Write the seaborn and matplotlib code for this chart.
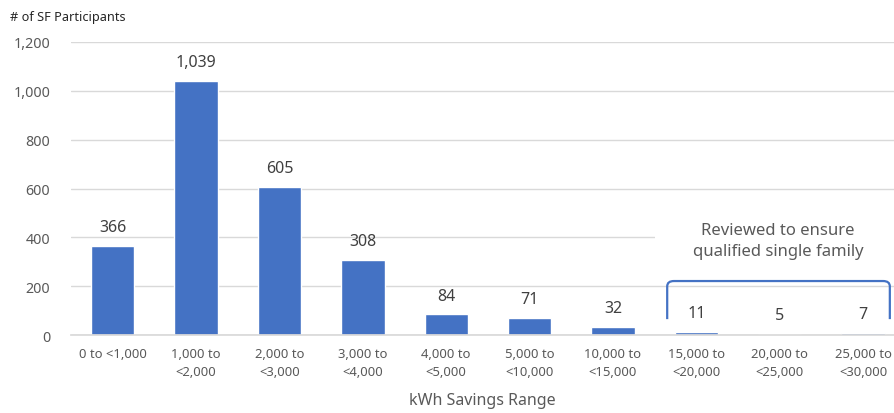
import matplotlib
matplotlib.use("Agg")
import matplotlib.pyplot as plt
import seaborn as sns
import pandas as pd
from matplotlib.path import Path
from matplotlib.patches import PathPatch, Rectangle

ranges = ["0 to <1,000", "1,000 to\n<2,000", "2,000 to\n<3,000", "3,000 to\n<4,000",
          "4,000 to\n<5,000", "5,000 to\n<10,000", "10,000 to\n<15,000", "15,000 to\n<20,000",
          "20,000 to\n<25,000", "25,000 to\n<30,000"]
participants = [366, 1039, 605, 308, 84, 71, 32, 11, 5, 7]
yticks = [0, 200, 400, 600, 800, 1000, 1200]

sns.set_theme(style="white")
plt.rcParams["font.family"] = ["Noto Sans", "DejaVu Sans"]

BLUE = "#4472C4"
GREY = "#595959"
GRID = "#D9D9D9"

df = pd.DataFrame({"range": ranges, "count": participants})

fig = plt.figure(figsize=(8.94, 4.14), dpi=100)
ax = fig.add_axes([71 / 894, 1 - 336 / 414, (894 - 71) / 894, 293 / 414])

sns.barplot(data=df, x="range", y="count", color=BLUE, width=0.52,
            saturation=1, ax=ax, zorder=3)

ax.set_ylim(0, 1200)
ax.set_xlim(-0.5, 9.37)
ax.set_yticks(yticks)
ax.set_yticklabels([f"{v:,}" for v in yticks], color=GREY, fontsize=10.3)
ax.set_xticks(range(len(ranges)))
ax.set_xticklabels(ranges, linespacing=1.5)
ax.tick_params(axis="x", colors=GREY, labelsize=9.4, length=0, pad=9)
ax.tick_params(axis="y", length=0, pad=15)
ax.yaxis.grid(True, color=GRID, linewidth=1, zorder=0)
for s in ["left", "right", "top"]:
    ax.spines[s].set_visible(False)
ax.spines["bottom"].set_color(GRID)
ax.spines["bottom"].set_zorder(4)

ax.set_xlabel("kWh Savings Range", color=GREY, fontsize=11.5, labelpad=10)
ax.set_ylabel("")

# value labels above each bar
for i, v in enumerate(participants):
    ax.text(i, v + 45, f"{v:,}", ha="center", va="bottom", color="#404040", fontsize=11.5)

# bracket around the highest-savings groups
x0, x1, yb, yt, r = 6.65, 9.32, 65, 221, 0.08
ry = 22
verts = [(x0, yb), (x0, yt - ry), (x0, yt), (x0 + r, yt), (x1 - r, yt), (x1, yt), (x1, yt - ry), (x1, yb)]
codes = [Path.MOVETO, Path.LINETO, Path.CURVE3, Path.CURVE3, Path.LINETO, Path.CURVE3, Path.CURVE3, Path.LINETO]
ax.add_patch(PathPatch(Path(verts, codes), fill=False, edgecolor=BLUE, linewidth=1.6,
                       zorder=5, clip_on=False))

# white note panel reaching to the right edge
ax.add_patch(Rectangle((6.5, 300), 3.0, 190, facecolor="white", edgecolor="none",
                       zorder=2, clip_on=False))
ax.text(7.98, 388, "Reviewed to ensure\nqualified single family", ha="center", va="center",
        color=GREY, fontsize=12, linespacing=1.45, zorder=6)

fig.text(10 / 894, 1 - 18 / 414, "# of SF Participants", color="#262626", fontsize=9.2,
         ha="left", va="center")

fig.savefig("out.png", dpi=100)
